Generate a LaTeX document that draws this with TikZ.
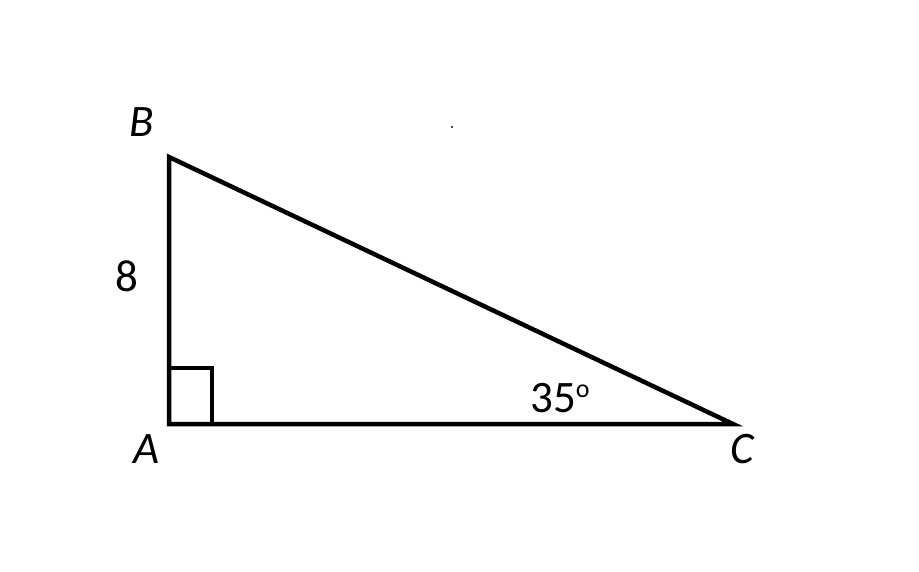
\documentclass[tikz,border=0pt]{standalone}
\usepackage{fontspec}
\setmainfont{Carlito}
\begin{document}
\begin{tikzpicture}[x=1pt,y=-1pt,
  edge/.style={line width=4.5pt,line join=miter},
  lbl/.style={inner sep=0pt,anchor=base,font=\fontsize{45}{45}\selectfont\itshape},
  num/.style={inner sep=0pt,font=\fontsize{45}{45}\selectfont}]
\useasboundingbox[fill=white] (0,0) rectangle (919,572);
\coordinate (A) at (169,424);
\coordinate (B) at (169,157);
\coordinate (C) at (733,424);
\coordinate (S1) at (212,424);
\coordinate (S2) at (212,368);
\coordinate (S3) at (169,368);
\draw[edge] (A) -- (B) -- (C) -- cycle;
\draw[edge] (S3) -- (S2) -- (S1);
\node[lbl] (lB) at (142,137) {B};
\node[lbl] (lA) at (147,463) {A};
\node[lbl] (lC) at (742,463) {C};
\node[num,anchor=base] (l8) at (127,291) {8};
\node[num,anchor=base west] (ang) at (530,412) {35\raisebox{15pt}{\fontsize{26}{26}\selectfont o}};
\fill[black!70] (451,126) rectangle (453,128);
\end{tikzpicture}
\end{document}
